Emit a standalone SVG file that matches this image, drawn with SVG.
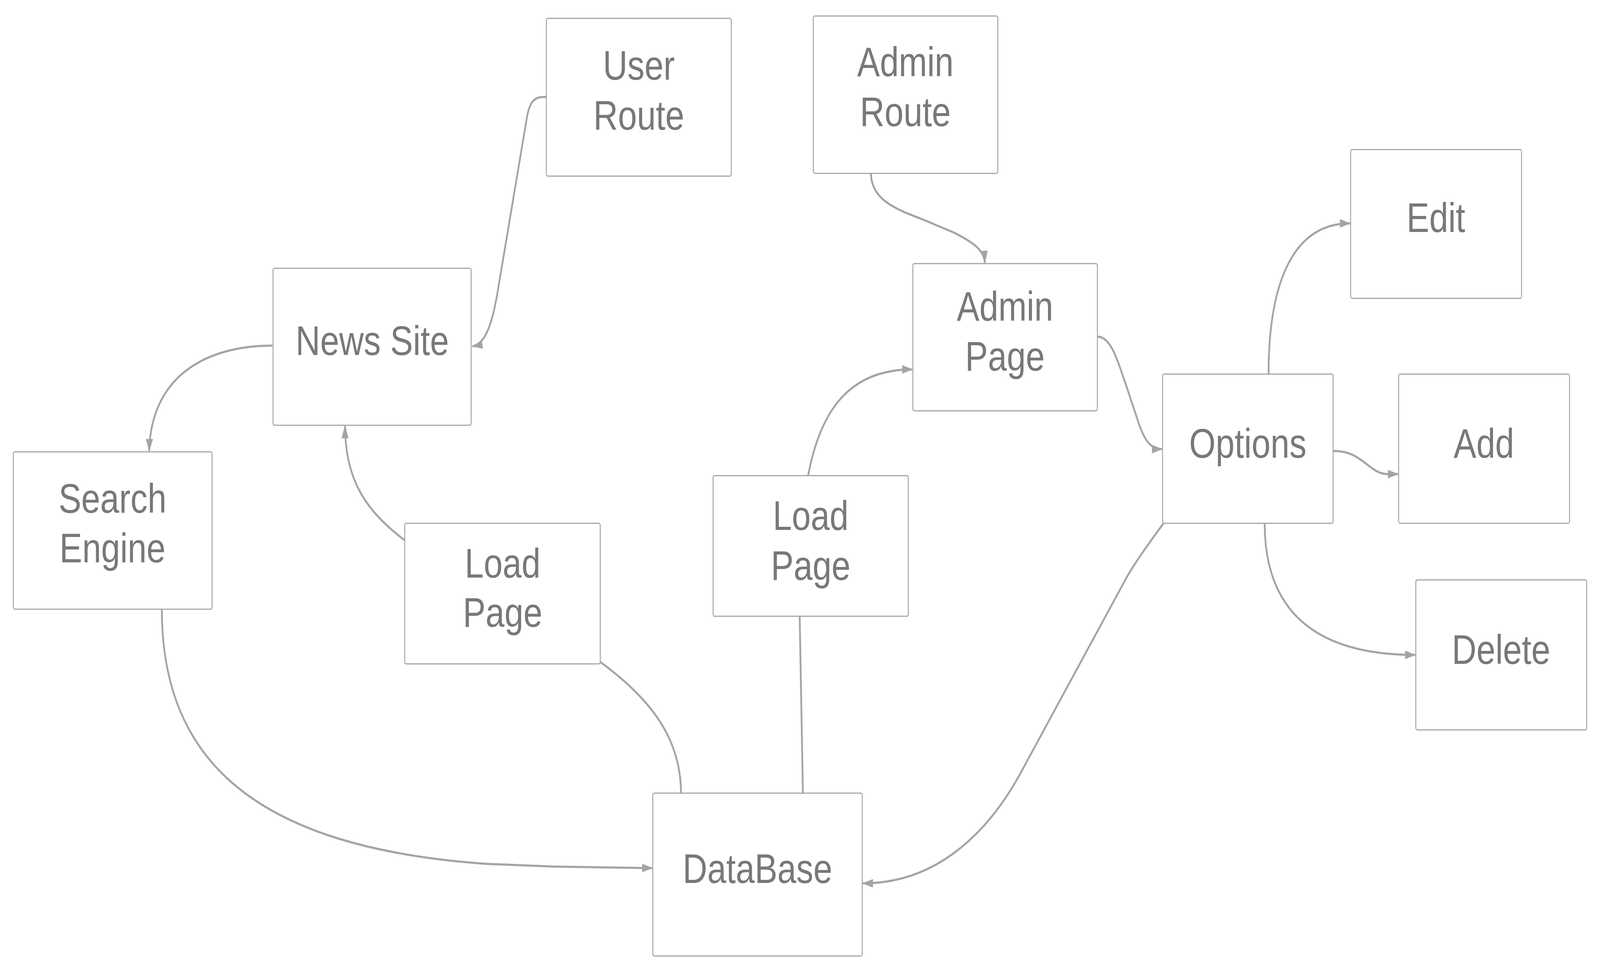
<svg xmlns="http://www.w3.org/2000/svg" width="4934" height="2489" viewBox="0 0 4934 2489" preserveAspectRatio="none">
<style>
svg:root{width:100%;height:100%}
.box{fill:#ffffff;stroke:#a6a6a6;stroke-width:3}
.lbl{font-family:"Liberation Sans",Arial,sans-serif;font-size:105px;fill:#787878;text-anchor:middle}
.edge{fill:none;stroke:#a4a4a4;stroke-width:5.5}
.arr{marker-end:url(#ah)}
</style>
<defs>
<marker id="ah" markerUnits="userSpaceOnUse" markerWidth="36" markerHeight="24" refX="31" refY="11" orient="auto">
<path d="M0,0 L33,11 L0,22 z" fill="#a4a4a4"/>
</marker>
</defs>
<rect width="4934" height="2489" fill="#ffffff"/>
<g id="user-route"><rect class="box" x="1685" y="47" width="570" height="404" rx="5"/><text class="lbl" x="1970" y="204">User</text><text class="lbl" x="1970" y="332">Route</text></g>
<g id="admin-route"><rect class="box" x="2508" y="41" width="569" height="403" rx="5"/><text class="lbl" x="2792" y="195">Admin</text><text class="lbl" x="2792" y="323">Route</text></g>
<g id="news-site"><rect class="box" x="842" y="687" width="611" height="402" rx="5"/><text class="lbl" x="1148" y="909">News Site</text></g>
<g id="admin-page"><rect class="box" x="2815" y="675" width="569" height="377" rx="5"/><text class="lbl" x="3099" y="821">Admin</text><text class="lbl" x="3099" y="949">Page</text></g>
<g id="edit"><rect class="box" x="4165" y="383" width="527" height="381" rx="5"/><text class="lbl" x="4428" y="594">Edit</text></g>
<g id="options"><rect class="box" x="3585" y="958" width="526" height="382" rx="5"/><text class="lbl" x="3848" y="1172">Options</text></g>
<g id="add"><rect class="box" x="4313" y="958" width="527" height="382" rx="5"/><text class="lbl" x="4576" y="1172">Add</text></g>
<g id="delete"><rect class="box" x="4366" y="1485" width="527" height="384" rx="5"/><text class="lbl" x="4629" y="1700">Delete</text></g>
<g id="search-engine"><rect class="box" x="41" y="1157" width="613" height="403" rx="5"/><text class="lbl" x="347" y="1313">Search</text><text class="lbl" x="347" y="1440">Engine</text></g>
<g id="load-page-1"><rect class="box" x="1248" y="1340" width="603" height="360" rx="5"/><text class="lbl" x="1550" y="1479">Load</text><text class="lbl" x="1550" y="1605">Page</text></g>
<g id="load-page-2"><rect class="box" x="2199" y="1218" width="602" height="360" rx="5"/><text class="lbl" x="2500" y="1357">Load</text><text class="lbl" x="2500" y="1485">Page</text></g>
<g id="database"><rect class="box" x="2013" y="2031" width="646" height="417" rx="5"/><text class="lbl" x="2336" y="2261">DataBase</text></g>
<g id="connectors">
<path class="edge arr" d="M1685,248 C1650,248 1635,255 1625,300 L1535,745 C1520,820 1500,880 1457,887"/>
<path class="edge arr" d="M840,885 C640,885 466,960 460,1155"/>
<path class="edge arr" d="M1249,1384 C1130,1310 1064,1230 1064,1091"/>
<path class="edge arr" d="M499,1560 C499,1950 790,2170 1498,2212 L1705,2219 L2011,2223"/>
<path class="edge" d="M1851,1695 C1990,1780 2100,1880 2100,2031"/>
<path class="edge" d="M2466,1578 L2476,2031"/>
<path class="edge arr" d="M2492,1218 C2530,1050 2620,946 2813,946"/>
<path class="edge arr" d="M2686,444 C2686,510 2760,535 2840,560 L2940,595 C3000,620 3035,640 3037,673"/>
<path class="edge arr" d="M3384,862 C3425,862 3445,920 3470,980 L3510,1080 C3530,1130 3550,1150 3583,1150"/>
<path class="edge arr" d="M3912,957 C3912,720 3990,572 4163,572"/>
<path class="edge arr" d="M4111,1155 C4200,1152 4220,1214 4280,1214 L4311,1214"/>
<path class="edge arr" d="M3900,1341 C3900,1560 4050,1677 4364,1677"/>
<path class="edge arr" d="M3588,1340 C3540,1395 3500,1440 3470,1485 L3160,1960 C3060,2120 2900,2262 2661,2262"/>
</g>
</svg>
